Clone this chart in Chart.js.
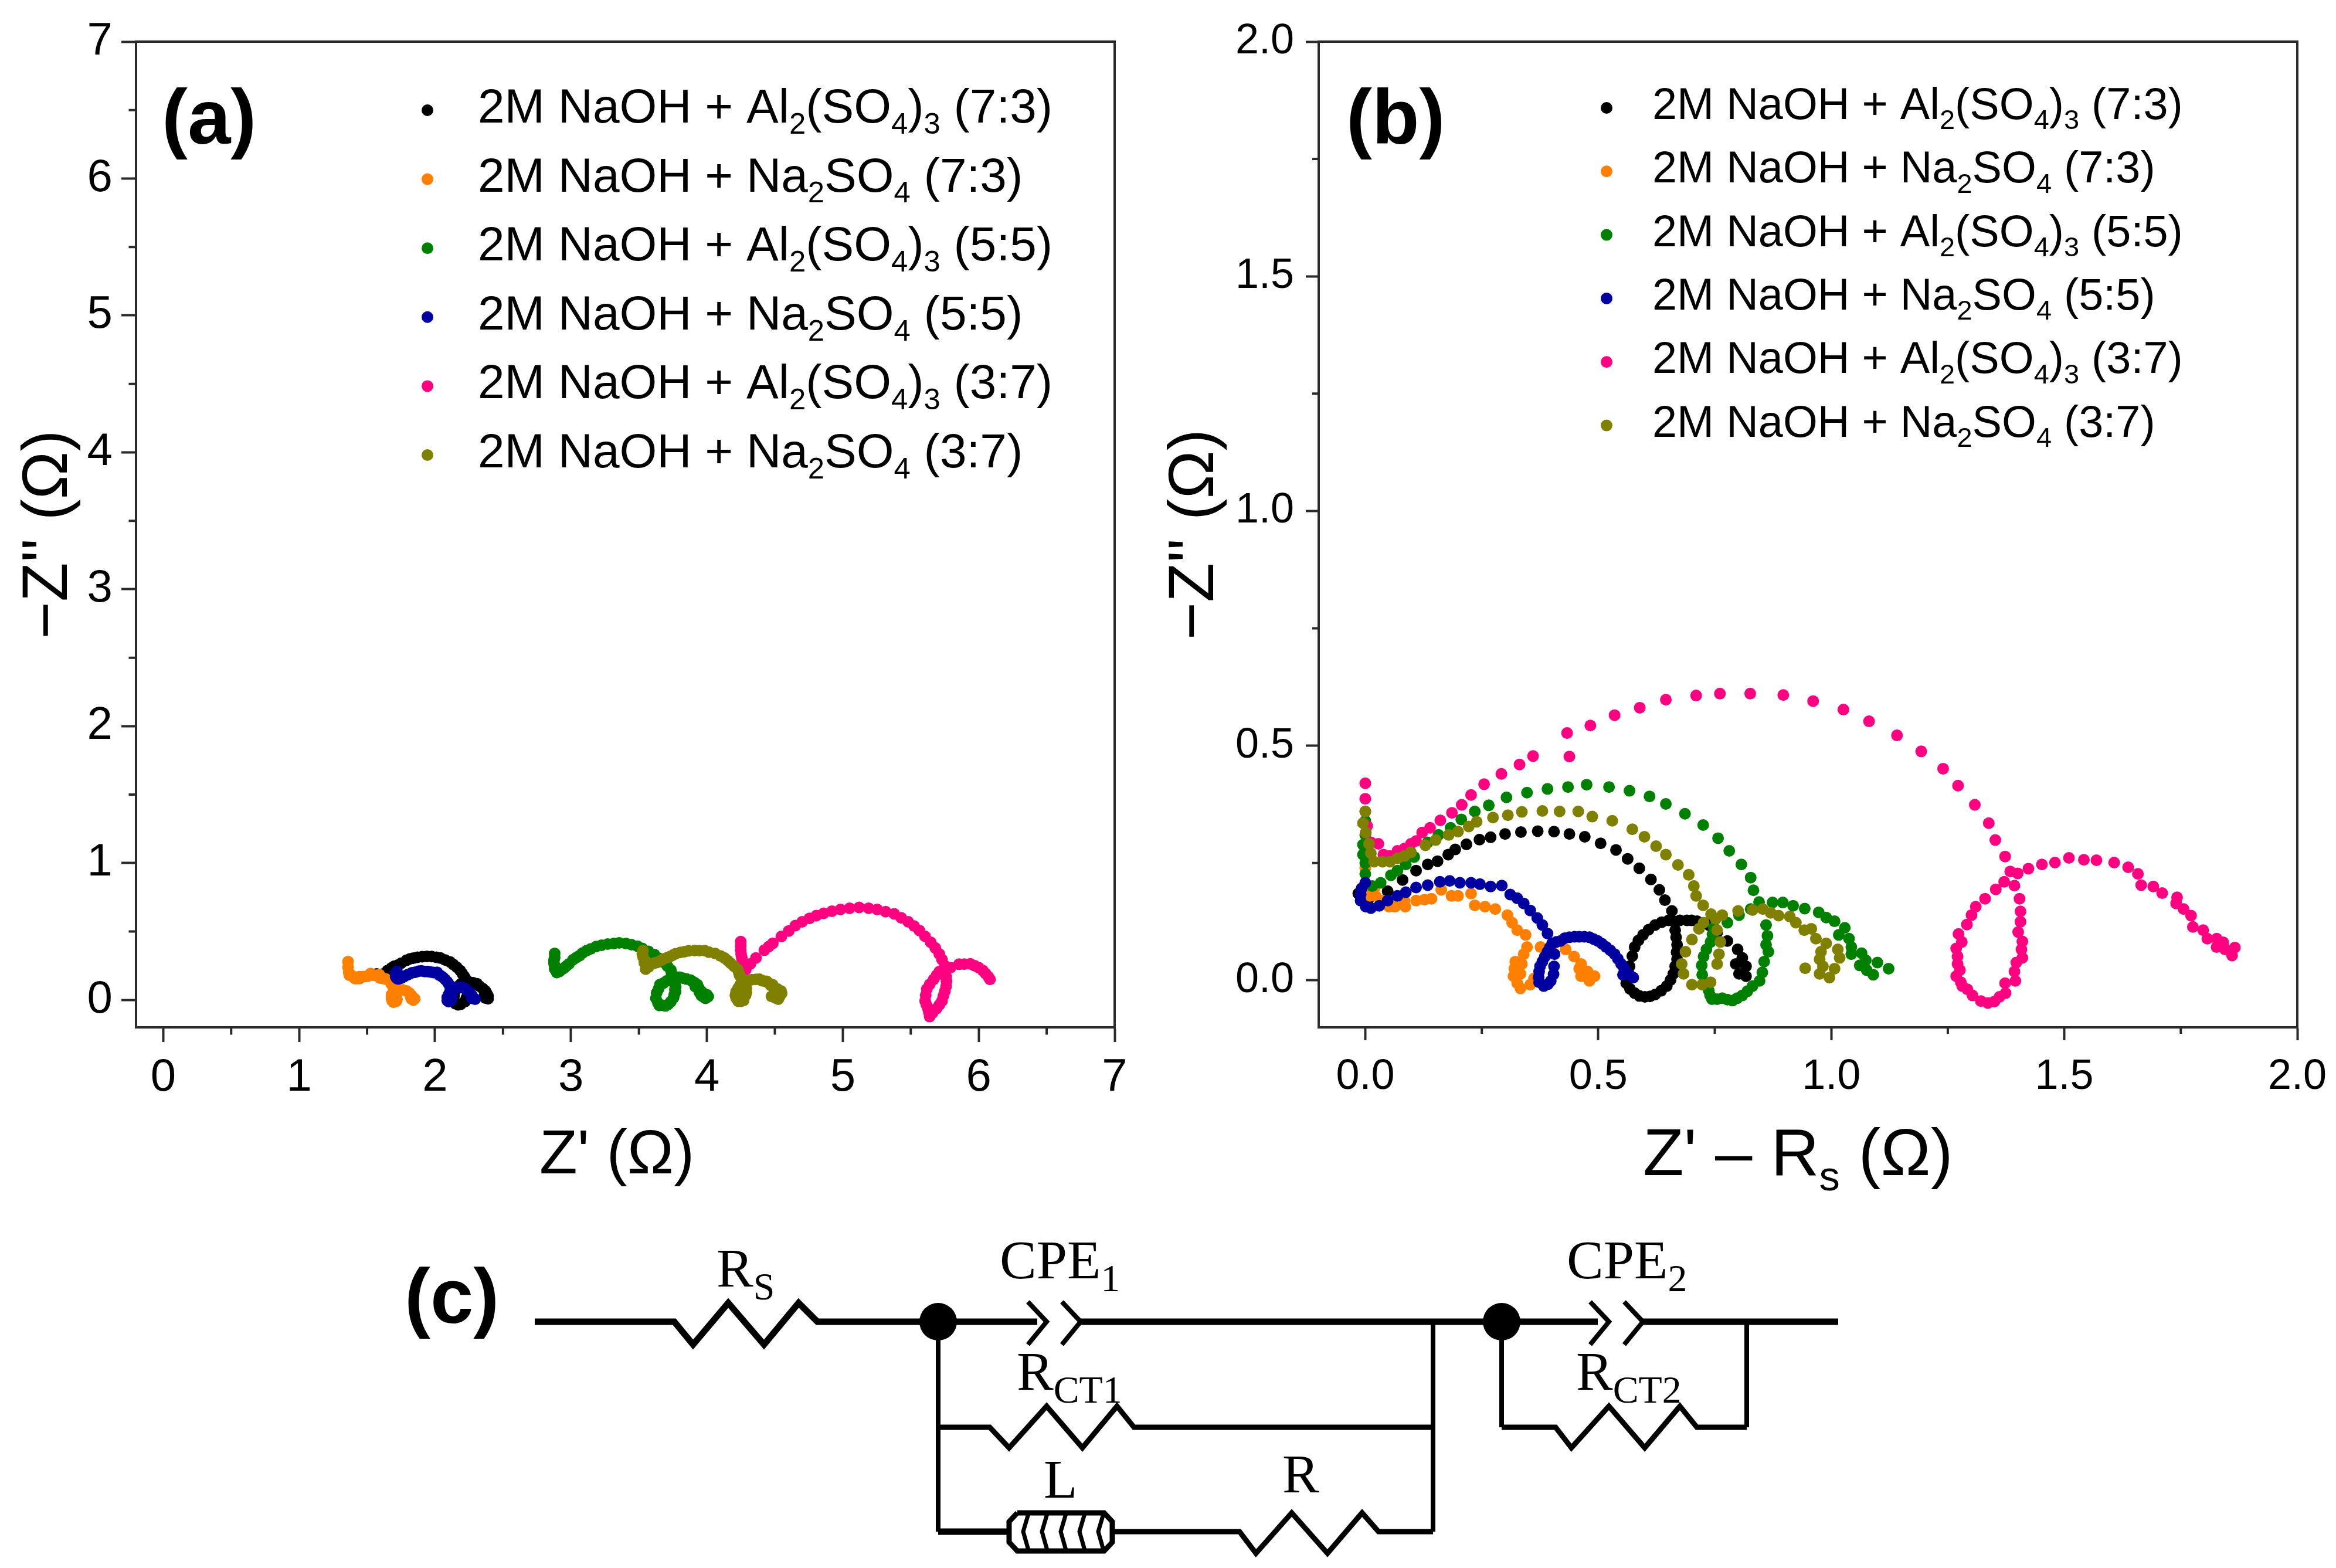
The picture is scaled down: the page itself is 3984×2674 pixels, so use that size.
<!DOCTYPE html>
<html>
<head>
<meta charset="utf-8">
<title>Nyquist plots</title>
<script src="https://cdn.jsdelivr.net/npm/chart.js@4/dist/chart.umd.min.js"></script>
<style>
	html, body { margin: 0; padding: 0; background: #fff; }
	#page { position: relative; width: 3984px; height: 2674px; overflow: hidden; background: #fff; }
	canvas { position: absolute; }
</style>
</head>
<body>
<div id="page">
	<canvas id="chartA" width="2000" height="2050" style="left:0;top:0"></canvas>
	<canvas id="chartB" width="2034" height="2050" style="left:1950px;top:0"></canvas>
	<canvas id="chartC" width="3984" height="724" style="left:0;top:1950px"></canvas>
</div>
<script>
"use strict";

const seriesNames = ["2M NaOH + Al_2_(SO_4_)_3_ (7:3)", "2M NaOH + Na_2_SO_4_ (7:3)", "2M NaOH + Al_2_(SO_4_)_3_ (5:5)", "2M NaOH + Na_2_SO_4_ (5:5)", "2M NaOH + Al_2_(SO_4_)_3_ (3:7)", "2M NaOH + Na_2_SO_4_ (3:7)"];
const seriesColors = ["#000000", "#ff8000", "#008000", "#0000a0", "#ff0080", "#808000"];

const ticksA = [0, 1, 2, 3, 4, 5, 6, 7];
const minorA = [0.5, 1.5, 2.5, 3.5, 4.5, 5.5, 6.5];
const ticksB = [0, 0.5, 1, 1.5, 2];
const minorB = [0.25, 0.75, 1.25, 1.75];

// panel (a), Z' and -Z''
const aBlack = [[1.57,.19],[1.60,.185],[1.62,.19],[1.65,.214],[1.68,.234],[1.70,.247],[1.725,.254],[1.75,.268],[1.79,.29],[1.815,.30],[1.84,.305],[1.87,.312],[1.905,.316],[1.94,.318],[1.975,.317],[2.01,.312],[2.04,.306],[2.075,.292],[2.11,.278],[2.135,.259],[2.16,.239],[2.185,.215],[2.20,.193],[2.215,.171],[2.23,.148],[2.23,.128],[2.26,.128],[2.28,.126],[2.31,.118],[2.325,.102],[2.35,.084],[2.37,.066],[2.38,.048],[2.39,.03],[2.39,.009],[2.37,.014],[2.365,.035],[2.235,.107],[2.24,.076],[2.24,.045],[2.23,.014],[2.22,-.012],[2.19,-.03],[2.17,-.035],[2.15,-.027],[2.13,-.006],[2.14,.03],[2.15,.071],[2.165,.097],[2.19,.118],[2.22,.128]];
const aOrange = [[1.36,.28],[1.36,.24],[1.365,.2],[1.37,.18],[1.385,.18],[1.41,.157],[1.425,.157],[1.445,.157],[1.445,.17],[1.47,.17],[1.49,.172],[1.505,.174],[1.525,.193],[1.545,.18],[1.56,.18],[1.59,.185],[1.595,.16],[1.62,.157],[1.64,.152],[1.665,.139],[1.675,.123],[1.685,.107],[1.705,.097],[1.71,.071],[1.735,.071],[1.76,.074],[1.79,.066],[1.81,.051],[1.825,.035],[1.835,.019],[1.85,.009],[1.84,-.001],[1.825,.009],[1.82,.025],[1.70,.056],[1.68,.04],[1.68,.025],[1.68,.009],[1.685,-.006],[1.695,-.017],[1.715,-.009],[1.72,.004],[1.695,.035],[1.69,.014]];
const aGreen = [[2.88,.34],[2.88,.31],[2.875,.289],[2.875,.268],[2.88,.25],[2.88,.227],[2.895,.201],[2.915,.208],[2.935,.224],[2.95,.234],[2.965,.247],[2.985,.263],[3.015,.294],[3.04,.31],[3.065,.325],[3.085,.343],[3.115,.36],[3.145,.373],[3.185,.39],[3.225,.4],[3.27,.408],[3.315,.412],[3.355,.417],[3.405,.412],[3.445,.404],[3.49,.392],[3.525,.376],[3.57,.355],[3.615,.331],[3.65,.303],[3.68,.276],[3.71,.247],[3.735,.219],[3.74,.192],[3.75,.155],[3.765,.118],[3.77,.095],[3.765,.076],[3.77,.061],[3.76,.04],[3.755,.017],[3.735,-.012],[3.715,-.032],[3.695,-.043],[3.67,-.038],[3.65,-.04],[3.64,-.022],[3.625,.012],[3.63,.051],[3.645,.082],[3.655,.113],[3.68,.123],[3.705,.139],[3.73,.152],[3.75,.167],[3.78,.166],[3.80,.166],[3.825,.159],[3.85,.153],[3.88,.145],[3.895,.134],[3.91,.126],[3.93,.112],[3.915,.097],[3.94,.089],[3.945,.071],[3.965,.058],[3.945,.056],[3.975,.043],[3.96,.032],[3.975,.022],[3.99,.012],[4.0,.038],[4.01,.025]];
const aBlue = [[1.72,.208],[1.71,.196],[1.71,.183],[1.71,.17],[1.72,.157],[1.73,.154],[1.75,.159],[1.77,.17],[1.79,.18],[1.805,.188],[1.83,.198],[1.855,.203],[1.88,.21],[1.90,.212],[1.925,.208],[1.945,.208],[1.965,.205],[1.99,.2],[2.015,.202],[2.03,.183],[2.045,.175],[2.06,.164],[2.075,.149],[2.09,.133],[2.10,.118],[2.11,.1],[2.12,.079],[2.14,.084],[2.16,.092],[2.18,.093],[2.20,.092],[2.22,.084],[2.235,.071],[2.255,.056],[2.27,.035],[2.28,.019],[2.295,.006],[2.27,.012],[2.125,.056],[2.125,.03],[2.12,-.001],[2.10,-.012],[2.09,-.004],[2.09,.019],[2.10,.04],[2.11,.061]];
const aPink = [[4.249,.426],[4.249,.395],[4.249,.364],[4.252,.335],[4.257,.307],[4.26,.278],[4.265,.25],[4.286,.221],[4.32,.264],[4.361,.307],[4.423,.364],[4.455,.39],[4.485,.414],[4.548,.464],[4.602,.504],[4.651,.543],[4.701,.571],[4.755,.596],[4.805,.616],[4.859,.633],[4.92,.648],[4.983,.661],[5.05,.67],[5.12,.676],[5.19,.67],[5.253,.661],[5.315,.645],[5.378,.629],[5.43,.6],[5.481,.571],[5.525,.54],[5.564,.507],[5.605,.465],[5.647,.421],[5.68,.38],[5.71,.336],[5.73,.295],[5.751,.25],[5.793,.236],[5.855,.261],[5.895,.262],[5.938,.264],[5.97,.25],[6.0,.236],[6.03,.215],[6.05,.193],[6.07,.17],[6.083,.15],[5.751,.207],[5.76,.17],[5.763,.136],[5.76,.1],[5.751,.064],[5.74,.03],[5.73,-.007],[5.71,-.036],[5.689,-.064],[5.66,-.095],[5.639,-.121],[5.633,-.09],[5.627,-.064],[5.615,-.035],[5.606,-.007],[5.61,.035],[5.618,.079],[5.64,.115],[5.668,.15],[5.69,.18],[5.71,.207]];
const aOlive = [[3.53,.36],[3.525,.335],[3.53,.315],[3.54,.291],[3.54,.271],[3.55,.225],[3.57,.24],[3.585,.26],[3.60,.265],[3.615,.27],[3.63,.273],[3.66,.288],[3.68,.299],[3.71,.31],[3.73,.317],[3.75,.328],[3.77,.338],[3.805,.347],[3.835,.352],[3.865,.359],[3.91,.361],[3.945,.36],[3.985,.36],[4.015,.349],[4.06,.34],[4.10,.322],[4.13,.306],[4.155,.286],[4.175,.268],[4.20,.246],[4.225,.225],[4.235,.201],[4.24,.18],[4.255,.16],[4.27,.141],[4.285,.107],[4.29,.082],[4.29,.056],[4.285,.035],[4.27,-.004],[4.25,-.009],[4.23,-.009],[4.215,.014],[4.21,.035],[4.215,.061],[4.23,.087],[4.245,.11],[4.255,.123],[4.28,.131],[4.295,.139],[4.33,.148],[4.36,.15],[4.385,.152],[4.40,.144],[4.415,.138],[4.44,.136],[4.455,.123],[4.47,.107],[4.485,.11],[4.495,.089],[4.52,.079],[4.51,.061],[4.545,.066],[4.55,.048],[4.505,.045],[4.51,.03],[4.535,.025],[4.505,.014],[4.525,.006],[4.475,.026]];

// panel (b), Z'-Rs and -Z''
const bBlack = [[-.015,.185],[.008,.175],[.048,.19],[.08,.214],[.109,.234],[.134,.247],[.155,.254],[.178,.268],[.193,.279],[.217,.29],[.245,.30],[.269,.305],[.30,.312],[.334,.316],[.37,.318],[.405,.317],[.438,.312],[.471,.306],[.505,.292],[.538,.278],[.563,.259],[.588,.239],[.613,.215],[.631,.193],[.643,.171],[.658,.148],[.658,.128],[.675,.128],[.69,.128],[.70,.128],[.712,.126],[.737,.118],[.755,.102],[.777,.084],[.799,.066],[.809,.048],[.817,.03],[.817,.009],[.802,.014],[.795,.035],[.665,.107],[.667,.092],[.669,.076],[.668,.06],[.669,.045],[.665,.03],[.661,.014],[.655,.001],[.647,-.012],[.635,-.022],[.622,-.03],[.611,-.034],[.60,-.035],[.588,-.033],[.578,-.027],[.568,-.018],[.56,-.006],[.558,.012],[.567,.03],[.573,.052],[.578,.071],[.586,.085],[.596,.097],[.608,.108],[.622,.118],[.636,.124],[.651,.128]];
const bOrange = [[0,.28],[0,.24],[.005,.20],[.01,.18],[.019,.196],[.022,.18],[.037,.17],[.051,.157],[.064,.157],[.086,.157],[.084,.17],[.109,.17],[.127,.172],[.142,.174],[.163,.193],[.185,.18],[.199,.18],[.227,.185],[.235,.16],[.257,.157],[.279,.152],[.305,.139],[.315,.123],[.326,.107],[.344,.097],[.347,.071],[.376,.071],[.401,.074],[.43,.066],[.448,.051],[.463,.035],[.477,.019],[.492,.009],[.481,-.001],[.463,.009],[.459,.025],[.34,.056],[.322,.04],[.32,.025],[.318,.009],[.326,-.006],[.333,-.017],[.354,-.009],[.362,.004],[.336,.035],[.333,.014]];
const bGreen = [[0,.34],[0,.31],[-.005,.289],[-.005,.268],[0,.25],[0,.227],[.015,.201],[.033,.208],[.055,.224],[.069,.234],[.087,.247],[.105,.263],[.134,.294],[.157,.31],[.183,.325],[.206,.343],[.235,.36],[.265,.373],[.303,.39],[.347,.40],[.391,.408],[.435,.412],[.475,.417],[.523,.412],[.567,.404],[.61,.392],[.645,.376],[.686,.355],[.725,.331],[.757,.303],[.781,.276],[.807,.247],[.827,.219],[.833,.192],[.86,.118],[.863,.095],[.86,.076],[.865,.061],[.856,.04],[.852,.017],[.846,-.001],[.831,-.012],[.82,-.023],[.809,-.032],[.798,-.038],[.788,-.043],[.777,-.041],[.766,-.038],[.755,-.04],[.744,-.04],[.74,-.032],[.737,-.022],[.73,-.005],[.723,.012],[.722,.032],[.726,.051],[.732,.066],[.741,.082],[.745,.098],[.748,.113],[.777,.123],[.802,.139],[.827,.152],[.845,.167],[.874,.166],[.896,.166],[.918,.159],[.943,.153],[.973,.145],[.989,.134],[1.007,.126],[1.029,.112],[1.016,.097],[1.038,.089],[1.043,.071],[1.065,.058],[1.043,.056],[1.074,.043],[1.061,.032],[1.076,.022],[1.09,.012],[1.099,.038],[1.123,.025]];
const bBlue = [[0,.208],[-.008,.196],[-.01,.183],[-.01,.17],[.001,.157],[.012,.154],[.03,.159],[.048,.17],[.069,.18],[.087,.188],[.109,.198],[.134,.203],[.16,.21],[.181,.212],[.203,.208],[.227,.208],[.246,.205],[.269,.20],[.293,.202],[.311,.183],[.326,.175],[.34,.164],[.354,.149],[.369,.133],[.38,.118],[.391,.10],[.401,.079],[.41,.082],[.419,.084],[.428,.09],[.438,.092],[.449,.093],[.459,.093],[.47,.093],[.481,.092],[.49,.088],[.499,.084],[.508,.078],[.517,.071],[.526,.064],[.535,.056],[.542,.046],[.549,.035],[.555,.027],[.56,.019],[.567,.012],[.575,.006],[.553,.012],[.406,.056],[.405,.03],[.404,.013],[.398,-.001],[.392,-.008],[.383,-.012],[.373,-.004],[.372,.007],[.373,.019],[.375,.03],[.38,.04],[.385,.05],[.391,.061],[.396,.07]];
const bPink = [[0,.42],[0,.387],[0,.36],[.004,.329],[.001,.315],[.012,.294],[.028,.291],[.039,.268],[.053,.265],[.069,.276],[.084,.281],[.098,.291],[.109,.297],[.122,.315],[.139,.325],[.161,.341],[.186,.357],[.207,.374],[.227,.395],[.255,.418],[.292,.44],[.331,.46],[.36,.478],[.438,.477],[.433,.527],[.483,.543],[.535,.565],[.589,.581],[.645,.598],[.71,.607],[.761,.611],[.826,.611],[.897,.608],[.961,.595],[1.026,.577],[1.081,.552],[1.141,.522],[1.193,.488],[1.24,.451],[1.272,.415],[1.308,.374],[1.338,.335],[1.352,.299],[1.373,.264],[1.384,.232],[1.40,.228],[1.423,.238],[1.452,.247],[1.48,.251],[1.51,.261],[1.542,.257],[1.569,.256],[1.607,.251],[1.637,.241],[1.658,.227],[1.665,.203],[1.691,.20],[1.71,.186],[1.742,.177],[1.74,.164],[1.756,.152],[1.772,.138],[1.776,.114],[1.798,.107],[1.807,.089],[1.827,.089],[1.841,.081],[1.827,.071],[1.845,.066],[1.866,.07],[1.86,.053],[1.371,.21],[1.393,.202],[1.353,.194],[1.33,.174],[1.31,.157],[1.301,.139],[1.291,.119],[1.273,.099],[1.28,.082],[1.268,.068],[1.271,.051],[1.271,.035],[1.276,.022],[1.268,.009],[1.278,-.004],[1.281,-.012],[1.292,-.019],[1.303,-.032],[1.321,-.044],[1.336,-.048],[1.35,-.045],[1.361,-.035],[1.374,-.027],[1.373,-.006],[1.395,-.001],[1.393,.019],[1.397,.038],[1.41,.048],[1.408,.066],[1.41,.083],[1.401,.103],[1.406,.125],[1.406,.147],[1.404,.174]];
const bOlive = [[0,.36],[-.005,.335],[.001,.315],[.008,.291],[.012,.271],[.019,.253],[.037,.253],[.053,.253],[.069,.26],[.084,.265],[.098,.273],[.129,.288],[.151,.299],[.179,.31],[.199,.317],[.222,.328],[.239,.338],[.274,.347],[.306,.352],[.336,.359],[.38,.361],[.417,.36],[.457,.36],[.487,.349],[.53,.34],[.573,.322],[.599,.306],[.624,.286],[.645,.268],[.671,.246],[.694,.225],[.705,.201],[.71,.18],[.725,.16],[.742,.141],[.755,.107],[.762,.082],[.759,.056],[.755,.035],[.741,-.004],[.723,-.009],[.701,-.009],[.683,.014],[.679,.035],[.687,.061],[.701,.087],[.716,.11],[.726,.123],[.752,.131],[.766,.139],[.80,.148],[.831,.15],[.853,.152],[.87,.144],[.887,.138],[.911,.136],[.924,.123],[.942,.107],[.957,.11],[.967,.089],[.989,.079],[.978,.061],[1.014,.066],[1.018,.048],[.975,.045],[.982,.03],[1.007,.025],[.975,.014],[.996,.006],[.944,.026]];

// circuit (c), in units of its own hidden axes
const wireMain = [[912,2254],[1150,2254],[1182,2293],[1242,2222],[1303,2293],[1362,2222],[1394,2254],[1769,2254]];
const wireMain2 = [[1843,2254],[2725,2254]];
const wireMain3 = [[2802,2254],[3135,2254]];
const cap1a = [[1753,2220],[1785,2254],[1753,2293]];
const cap1b = [[1811,2220],[1843,2254],[1811,2293]];
const cap2a = [[2712,2220],[2744,2254],[2712,2293]];
const cap2b = [[2770,2220],[2802,2254],[2770,2293]];
const wireLeft1 = [[1600,2254],[1600,2612]];
const wireRight1 = [[2444,2254],[2444,2612]];
const wireLeft2 = [[2561,2254],[2561,2434]];
const wireRight2 = [[2979,2254],[2979,2434]];
const rowRct1 = [[1600,2434],[1688,2434],[1721,2469],[1785,2398],[1846,2469],[1905,2398],[1934,2434],[2444,2434]];
const rowRct2 = [[2561,2434],[2653,2434],[2680,2469],[2744,2398],[2805,2469],[2865,2398],[2894,2434],[2979,2434]];
const rowL = [[1600,2612],[1721,2612]];
const rowR = [[1897,2612],[2114,2612],[2142,2649],[2203,2580],[2264,2649],[2323,2580],[2351,2612],[2444,2612]];
const coilOutline = [[1735,2580],[1883,2580],[1897,2595],[1897,2630],[1883,2645],[1735,2645],[1721,2630],[1721,2595],[1735,2580]];
const coilTurn1 = [[1755,2578],[1745,2612],[1755,2647]];
const coilTurn2 = [[1787,2578],[1777,2612],[1787,2647]];
const coilTurn3 = [[1819,2578],[1809,2612],[1819,2647]];
const coilTurn4 = [[1851,2578],[1841,2612],[1851,2647]];
const coilTurn5 = [[1883,2578],[1873,2612],[1883,2647]];
const nodes = [[1600,2254],[2561,2254]];

const circuitLabels = [
	{ text: "R_S", x: 1222, y: 2194 },
	{ text: "CPE_1", x: 1705, y: 2180 },
	{ text: "CPE_2", x: 2672, y: 2180 },
	{ text: "R_CT1", x: 1734, y: 2370 },
	{ text: "R_CT2", x: 2688, y: 2370 },
	{ text: "L", x: 1780, y: 2554 },
	{ text: "R", x: 2187, y: 2545 }
];

const sansFont = '"Liberation Sans", Arial, sans-serif';
const serifFont = '"Liberation Serif", "Times New Roman", serif';

// draws "text_sub_text": every odd piece goes lower and smaller
function drawRuns(ctx, markup, x, y, size, family, weight, subScale) {
	const parts = markup.split("_");
	const ratio = subScale || 0.62;
	ctx.textAlign = "left";
	ctx.textBaseline = "alphabetic";
	ctx.fillStyle = "#000";
	for (let i = 0; i < parts.length; i++) {
		const isSub = i % 2 == 1;
		ctx.font = (weight || "") + " " + (isSub ? size * ratio : size) + "px " + family;
		ctx.fillText(parts[i], x, isSub ? y + size * 0.23 : y);
		x += ctx.measureText(parts[i]).width;
	}
}

function panelPlugin(cfg) {
	return {
		id: "panel",
		afterDraw(chart) {
			const ctx = chart.ctx;
			const area = chart.chartArea;
			const offset = chart.canvas.offsetLeft;
			ctx.save();
			// frame
			ctx.strokeStyle = "#2a2a2a";
			ctx.lineWidth = 4;
			ctx.strokeRect(area.left, area.top, area.right - area.left, area.bottom - area.top);
			// minor ticks
			ctx.beginPath();
			for (const v of cfg.minor) {
				const px = chart.scales.x.getPixelForValue(v);
				ctx.moveTo(px, area.bottom);
				ctx.lineTo(px, area.bottom + cfg.tickLength / 2);
				const py = chart.scales.y.getPixelForValue(v);
				ctx.moveTo(area.left, py);
				ctx.lineTo(area.left - cfg.tickLength / 2, py);
			}
			ctx.stroke();
			// legend
			for (let i = 0; i < seriesNames.length; i++) {
				ctx.fillStyle = seriesColors[i];
				ctx.beginPath();
				ctx.arc(cfg.markerX - offset, cfg.markerY + i * cfg.rowStep, 10, 0, Math.PI * 2);
				ctx.fill();
				drawRuns(ctx, seriesNames[i], cfg.textX - offset, cfg.textY + i * cfg.rowStep, cfg.legendSize, sansFont);
			}
			drawRuns(ctx, cfg.label, cfg.labelX - offset, 245, 132, sansFont, "bold");
			drawRuns(ctx, cfg.xTitle, cfg.xTitleX - offset, cfg.xTitleY, cfg.xTitleSize, sansFont);
			ctx.restore();
		}
	};
}

function makePanel(id, series, cfg) {
	const canvas = document.getElementById(id);
	const datasets = series.map(function (points, i) {
		return {
			label: seriesNames[i].replace(/_/g, ""),
			data: points.map(p => ({ x: p[0], y: p[1] })),
			backgroundColor: seriesColors[i],
			pointRadius: 10,
			pointBorderWidth: 0,
			order: series.length - i
		};
	});
	function scaleOptions(min, max) {
		return {
			type: "linear",
			min: min,
			max: max,
			border: { display: true, color: "#2a2a2a", width: 4 },
			grid: { drawOnChartArea: false, drawTicks: true, tickLength: cfg.tickLength, tickColor: "#2a2a2a", tickWidth: 4 },
			ticks: {
				color: "#000",
				font: { family: sansFont, size: cfg.tickSize },
				padding: cfg.tickPad,
				autoSkip: false,
				maxRotation: 0,
				minRotation: 0,
				callback: v => cfg.ticks[cfg.ticks.length - 1] == 2 ? v.toFixed(1) : String(v)
			},
			afterBuildTicks: function (scale) {
				scale.ticks = cfg.ticks.map(v => ({ value: v }));
			}
		};
	}
	const xOpts = scaleOptions(cfg.min, cfg.max);
	xOpts.afterFit = function (scale) { scale.height = canvas.height - 1752; scale.paddingLeft = 0; scale.paddingRight = 0; };
	const yOpts = scaleOptions(cfg.min, cfg.yMax);
	yOpts.title = {
		display: true,
		text: "\u2212Z'' (\u03a9)",
		color: "#000",
		font: { family: sansFont, size: cfg.yTitleSize },
		padding: cfg.yTitlePad
	};
	yOpts.afterFit = function (scale) { scale.width = cfg.left; scale.paddingTop = 0; scale.paddingBottom = 0; };
	return new Chart(canvas, {
		type: "scatter",
		data: { datasets: datasets },
		options: {
			responsive: false,
			animation: false,
			events: [],
			layout: { padding: { top: 71, right: cfg.right, left: 0, bottom: 0 } },
			plugins: { legend: { display: false }, tooltip: { enabled: false } },
			scales: { x: xOpts, y: yOpts }
		},
		plugins: [panelPlugin(cfg)]
	});
}

makePanel("chartA", [aBlack, aOrange, aGreen, aBlue, aPink, aOlive], {
	min: -0.2, max: 7, yMax: 7, ticks: ticksA, minor: minorA, tickSize: 78, tickPad: 15, tickLength: 25,
	xTitle: "Z' (\u03a9)", xTitleX: 920, xTitleY: 2001, xTitleSize: 106,
	left: 232, right: 2000 - 1901, yTitlePad: 19, yTitleSize: 109,
	markerX: 729, markerY: 188, rowStep: 117.6, textX: 815, textY: 209, legendSize: 82,
	label: "(a)", labelX: 276
});

makePanel("chartB", [bBlack, bOrange, bGreen, bBlue, bPink, bOlive], {
	min: -0.1, max: 2, yMax: 2, ticks: ticksB, minor: minorB, tickSize: 72, tickPad: 20, tickLength: 22,
	xTitle: "Z' \u2013 R_s_ (\u03a9)", xTitleX: 2802, xTitleY: 2004, xTitleSize: 114,
	left: 299, right: 3984 - 3918, yTitlePad: 23, yTitleSize: 110,
	markerX: 2740, markerY: 184, rowStep: 108.3, textX: 2818, textY: 203, legendSize: 75.7,
	label: "(b)", labelX: 2296
});

// circuit (c)
function wire(points, width) {
	return {
		data: points.map(p => ({ x: p[0], y: p[1] })),
		showLine: true,
		borderColor: "#000",
		borderWidth: width,
		pointRadius: 0,
		tension: 0,
		borderJoinStyle: "miter"
	};
}

new Chart(document.getElementById("chartC"), {
	type: "scatter",
	data: {
		datasets: [
			wire(wireMain, 11), wire(wireMain2, 11), wire(wireMain3, 11),
			wire(cap1a, 8), wire(cap1b, 8), wire(cap2a, 8), wire(cap2b, 8),
			wire(wireLeft1, 8), wire(wireRight1, 8), wire(wireLeft2, 8), wire(wireRight2, 8),
			wire(rowRct1, 9), wire(rowRct2, 9), wire(rowL, 11), wire(rowR, 9),
			wire(coilOutline, 9), wire(coilTurn1, 7), wire(coilTurn2, 7), wire(coilTurn3, 7), wire(coilTurn4, 7), wire(coilTurn5, 7),
			{ data: nodes.map(p => ({ x: p[0], y: p[1] })), pointRadius: 32, pointBorderWidth: 0, backgroundColor: "#000" }
		]
	},
	options: {
		responsive: false,
		animation: false,
		events: [],
		layout: { padding: 0, autoPadding: false },
		plugins: { legend: { display: false }, tooltip: { enabled: false } },
		scales: {
			x: { type: "linear", display: false, min: 0, max: 3984 },
			y: { type: "linear", display: false, min: 1950, max: 2674, reverse: true }
		}
	},
	plugins: [{
		id: "circuitText",
		afterDraw(chart) {
			const ctx = chart.ctx;
			ctx.save();
			for (const item of circuitLabels) {
				const px = chart.scales.x.getPixelForValue(item.x);
				const py = chart.scales.y.getPixelForValue(item.y);
				drawRuns(ctx, item.text + "_", px, py, 94, serifFont, "", 0.7);
			}
			drawRuns(ctx, "(c)", chart.scales.x.getPixelForValue(690), chart.scales.y.getPixelForValue(2256), 132, sansFont, "bold");
			ctx.restore();
		}
	}]
});
</script>
</body>
</html>
